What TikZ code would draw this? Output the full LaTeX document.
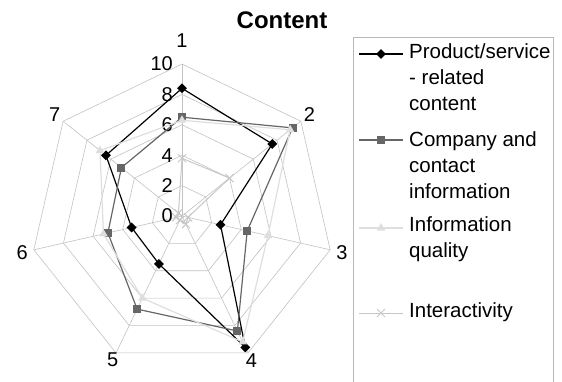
\documentclass[tikz,border=0pt]{standalone}
\usepackage{fontspec}
\setmainfont{Liberation Sans}
\usetikzlibrary{shapes.geometric,shapes.misc,positioning,calc}

\definecolor{gridgray}{gray}{0.76}
\definecolor{boxgray}{gray}{0.72}
\definecolor{sertwo}{gray}{0.40}
\definecolor{serthree}{gray}{0.87}
\definecolor{serfour}{gray}{0.78}

\begin{document}
\begin{tikzpicture}[x=1pt,y=1pt,
	grid/.style={draw=gridgray, line width=0.6pt},
	lbl/.style={font=\fontsize{20}{24}\selectfont, inner sep=0pt},
	legtxt/.style={font=\fontsize{20.5}{26}\selectfont, align=left, anchor=north west, inner sep=0pt},
	serA/.style={draw=black, line width=1.2pt},
	serB/.style={draw=sertwo, line width=1.2pt},
	serC/.style={draw=serthree, line width=1.2pt},
	serD/.style={draw=serfour, line width=1pt},
	mkA/.style={diamond, fill=black, inner sep=0pt, minimum size=10pt},
	mkB/.style={rectangle, fill=sertwo, inner sep=0pt, minimum size=8pt},
	mkC/.style={regular polygon, regular polygon sides=3, fill=serthree, inner sep=0pt, minimum size=10pt},
	mkD/.style={cross out, draw=serfour, line width=1pt, inner sep=0pt, minimum size=7pt}]
	\useasboundingbox (-182,-165) rectangle (380,216);

	% grid
	\foreach \k in {1,...,7}
		\coordinate (ax\k) at ({90-(\k-1)*360/7}:152);
	\foreach \v in {2,4,...,10}
		\draw[grid] (90:\v*15.2) \foreach \k in {1,...,6} {-- ({90-\k*360/7}:\v*15.2)} -- cycle;
	\foreach \k in {1,...,7}
		\draw[grid] (0,0) -- (ax\k);
	\foreach \v in {0,2,...,10}
		\node[lbl, anchor=east] (tick\v) at (-9,\v*15.2) {\v};
	\foreach \k/\r in {1/175,2/163,3/164,4/160,5/160,6/164,7/163}
		\node[lbl] (lab\k) at ({90-(\k-1)*360/7}:\r) {\k};

	\node[font=\bfseries\fontsize{24}{28}\selectfont] (title) at (100,196) {Content};

	% data
	\foreach \v [count=\k] in {8.4,7.6,2.6,9.6,3.5,3.4,6.4}
		\coordinate (a-\k) at ({90-(\k-1)*360/7}:\v*15.2);
	\foreach \v [count=\k] in {6.5,9.3,4.4,8.4,6.8,5.0,5.1}
		\coordinate (b-\k) at ({90-(\k-1)*360/7}:\v*15.2);
	\foreach \v [count=\k] in {6.3,9.1,5.8,9.2,6.0,5.3,6.9}
		\coordinate (c-\k) at ({90-(\k-1)*360/7}:\v*15.2);
	\foreach \v [count=\k] in {3.8,4.0,0.4,0.6,0.3,0.4,0.3}
		\coordinate (d-\k) at ({90-(\k-1)*360/7}:\v*15.2);

	\draw[serA] (a-1) \foreach \k in {2,...,7} {-- (a-\k)} -- cycle;
	\foreach \k in {1,...,7} \node[mkA] (ma-\k) at (a-\k) {};
	\draw[serB] (b-1) \foreach \k in {2,...,7} {-- (b-\k)} -- cycle;
	\foreach \k in {1,...,7} \node[mkB] (mb-\k) at (b-\k) {};
	\draw[serC] (c-1) \foreach \k in {2,...,7} {-- (c-\k)} -- cycle;
	\foreach \k in {1,...,7} \node[mkC] (mc-\k) at (c-\k) {};
	\draw[serD] (d-1) \foreach \k in {2,...,7} {-- (d-\k)} -- cycle;
	\foreach \k in {1,...,7} \node[mkD] (md-\k) at (d-\k) {};

	% legend
	\draw[draw=boxgray, line width=0.8pt] (171,179) rectangle (371,-180);
	\node[legtxt] (leg1) at (227,173) {Product/service\\- related\\content};
	\node[legtxt] (leg2) at (227,85) {Company and\\contact\\information};
	\node[legtxt] (leg3) at (227,0) {Information\\quality};
	\node[legtxt] (leg4) at (227,-86) {Interactivity};
	\foreach \s/\m/\n/\y in {serA/mkA/1/162,serB/mkB/2/76,serC/mkC/3/-12,serD/mkD/4/-97} {
		\coordinate (kl\n) at (177,\y);
		\coordinate (kr\n) at (221,\y);
		\draw[\s] (kl\n) -- (kr\n);
		\node[\m] (km\n) at ($(kl\n)!0.5!(kr\n)$) {};
	}
\end{tikzpicture}
\end{document}
